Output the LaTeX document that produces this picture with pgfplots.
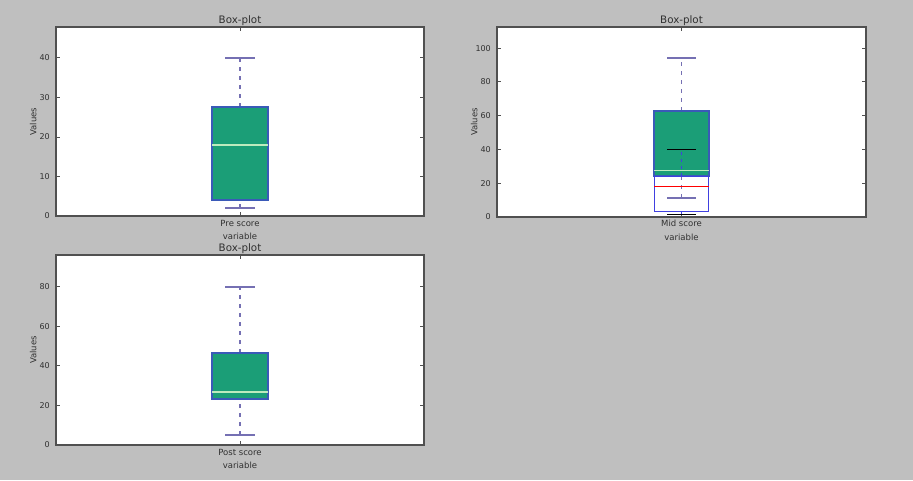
\documentclass[border=0pt]{standalone}
\usepackage{pgfplots}
\pgfplotsset{compat=1.18}
\usepgfplotslibrary{statistics}
\usepackage{fontspec}
\setmainfont{DejaVu Sans}
\definecolor{figbg}{HTML}{BFBFBF}
\definecolor{boxgreen}{HTML}{1B9E77}
\definecolor{boxedge}{HTML}{3A5AB8}
\definecolor{whisk}{HTML}{7570B3}
\definecolor{medgreen}{HTML}{BDEBBE}
\definecolor{frame}{HTML}{505050}
\definecolor{txt}{HTML}{303030}
\definecolor{clblue}{HTML}{4040E0}
\pgfplotsset{
  /pgfplots/boxplot/my whisker/.style={draw=whisk, line width=1.6pt, dash pattern=on 4pt off 5pt},
  /pgfplots/boxplot/my cap/.style={draw=whisk, line width=2pt},
  boxplot/draw/lower whisker/.code={%
    \draw[/pgfplots/boxplot/my whisker]
      (boxplot whisker cs:\pgfplotsboxplotvalue{lower whisker},0.5) -- (boxplot whisker cs:\pgfplotsboxplotvalue{lower quartile},0.5);
    \draw[/pgfplots/boxplot/my cap]
      (boxplot whisker cs:\pgfplotsboxplotvalue{lower whisker},0) -- (boxplot whisker cs:\pgfplotsboxplotvalue{lower whisker},1);
  },
  boxplot/draw/upper whisker/.code={%
    \draw[/pgfplots/boxplot/my whisker]
      (boxplot whisker cs:\pgfplotsboxplotvalue{upper quartile},0.5) -- (boxplot whisker cs:\pgfplotsboxplotvalue{upper whisker},0.5);
    \draw[/pgfplots/boxplot/my cap]
      (boxplot whisker cs:\pgfplotsboxplotvalue{upper whisker},0) -- (boxplot whisker cs:\pgfplotsboxplotvalue{upper whisker},1);
  },
  greenbox/.style={
    boxplot/draw direction=y,
    boxplot/every box/.style={draw=boxedge, fill=boxgreen, line width=2pt},
    boxplot/every median/.style={draw=medgreen, line width=1.6pt},
  },
  classicbox/.style={
    boxplot/draw direction=y,
    boxplot/every box/.style={draw=clblue, line width=1pt},
    boxplot/every median/.style={draw=red, line width=1pt},
  },
  geom/.style={
    scale only axis, anchor=south west,
    xmin=0, xmax=200, ymin=0,
  },
  myaxis/.style={
    geom,
    axis background/.style={fill=white},
    axis line style={draw=frame, line width=1.3pt},
    tick align=inside, tick pos=both,
    major tick length=4pt,
    tick style={draw=frame, line width=0.8pt},
    xtick={100},
    /pgf/number format/assume math mode=true,
    tick label style={font=\fontsize{8}{9}\selectfont, text=txt},
    yticklabel style={anchor=east, inner sep=0pt, xshift=-6pt},
    xticklabel style={anchor=base, inner sep=0pt, yshift=-10pt, font=\fontsize{8.5}{10}\selectfont},
    title={Box-plot},
    every axis title shift=0pt,
    title style={at={(axis description cs:0.5,1.021)}, anchor=base, inner sep=0pt, font=\fontsize{10.3}{12}\selectfont, text=txt},
    xlabel={variable},
    xlabel style={at={(axis description cs:0.5,-0.1217)}, anchor=base, inner sep=0pt, font=\fontsize{8.5}{10}\selectfont, text=txt},
    ylabel={Values},
    ylabel style={at={(axis description cs:-0.053,0.5)}, anchor=base, inner sep=0pt, font=\fontsize{8.5}{10}\selectfont, text=txt},
  },
}
\begin{document}
\begin{tikzpicture}
\fill[figbg] (0,0) rectangle (913pt,480pt);
% Top-left: Pre score
\begin{axis}[myaxis, at={(56pt,264pt)}, width=368pt, height=189pt,
  ymax=47.8, ytick={0,10,20,30,40}, xticklabels={Pre score}]
\addplot[greenbox, boxplot prepared={draw position=100, lower whisker=2, lower quartile=4, median=18, upper quartile=27.6, upper whisker=40, box extend=30.4, whisker extend=15.8}] coordinates {};
\end{axis}
% Top-right: Mid score, green box plot
\begin{axis}[myaxis, at={(497pt,263pt)}, width=369pt, height=190pt,
  ymax=112.5, ytick={0,20,40,60,80,100}, xticklabels={Mid score}]
\addplot[greenbox, boxplot prepared={draw position=100, lower whisker=11.5, lower quartile=24, median=27.5, upper quartile=63, upper whisker=94, box extend=29.8, whisker extend=15.7}] coordinates {};
\end{axis}
% Top-right: Mid score, classic box plot overlaid on the same area
\begin{axis}[geom, at={(497pt,263pt)}, width=369pt, height=190pt,
  ymax=112.5, hide axis,
  /pgfplots/boxplot/my whisker/.style={draw=clblue, line width=1pt, dash pattern=on 3pt off 4pt},
  /pgfplots/boxplot/my cap/.style={draw=black, line width=1.2pt}]
\addplot[classicbox, boxplot prepared={draw position=100, lower whisker=1.6, lower quartile=3.2, median=18, upper quartile=24, upper whisker=40, box extend=29.8, whisker extend=15.7}] coordinates {};
\end{axis}
% Bottom-left: Post score
\begin{axis}[myaxis, at={(56pt,35pt)}, width=368pt, height=190pt,
  ymax=96, ytick={0,20,40,60,80}, xticklabels={Post score}]
\addplot[greenbox, boxplot prepared={draw position=100, lower whisker=5, lower quartile=23, median=26.8, upper quartile=46.6, upper whisker=80, box extend=30.4, whisker extend=15.8}] coordinates {};
\end{axis}
\end{tikzpicture}
\end{document}
